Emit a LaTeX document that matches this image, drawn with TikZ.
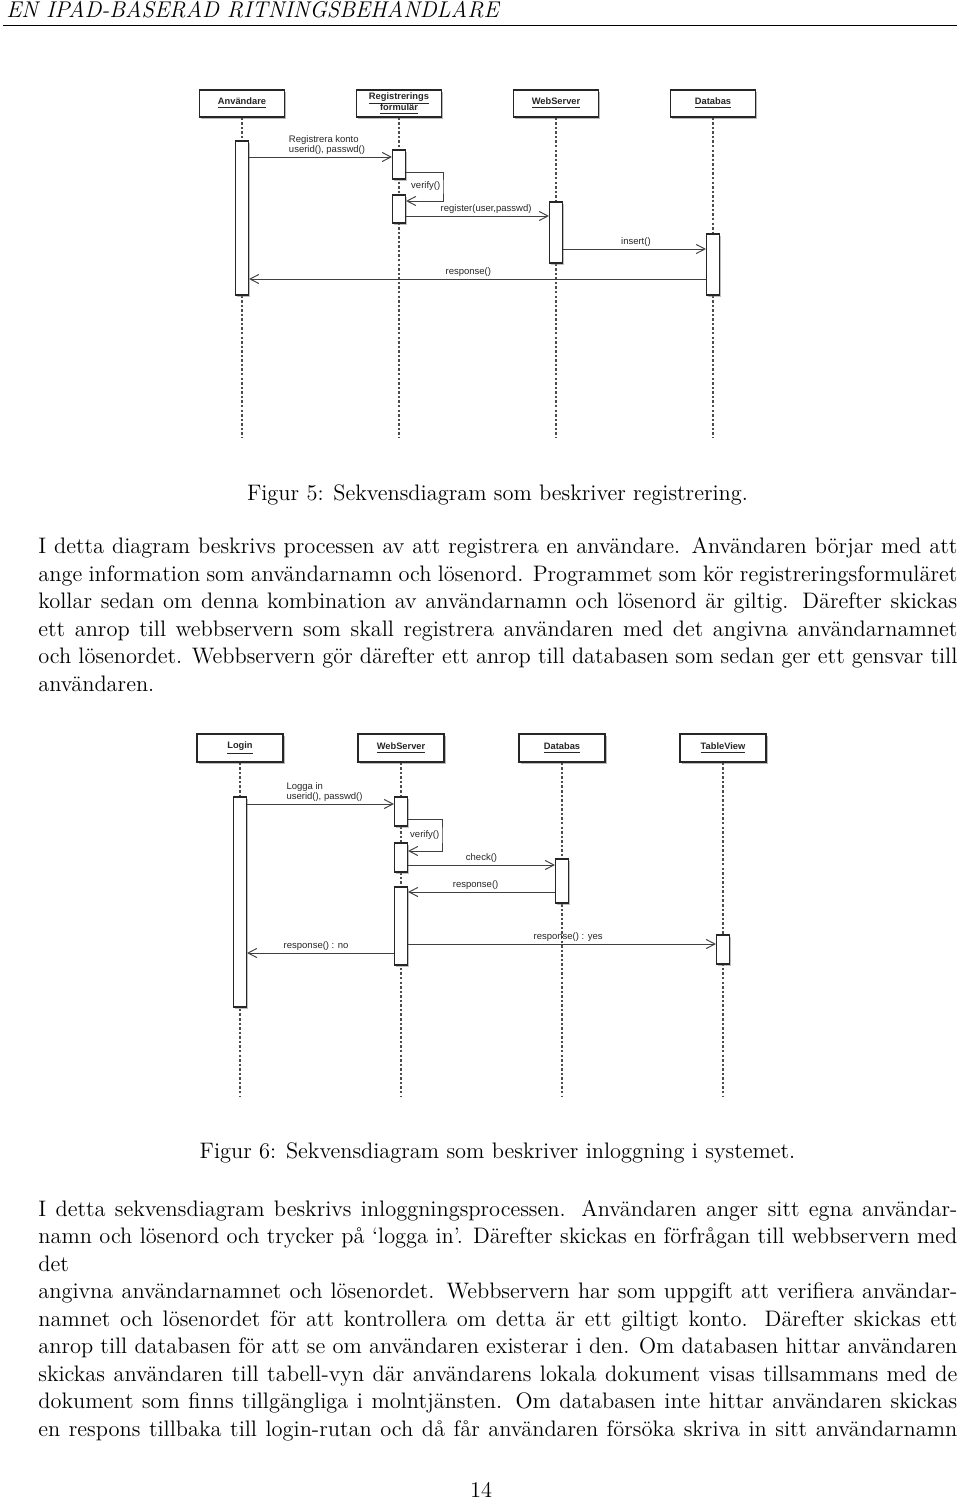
\documentclass[tikz,border=0pt]{standalone}
\usepackage{fontspec}
\newfontfamily\umlfont{Liberation Sans}
\usetikzlibrary{arrows.meta,shadows}

\def\pxu{0.5263pt}

\tikzset{
  head/.style={draw=black!85, fill=white, line width=0.7pt, inner sep=1pt,
    minimum width=85*\pxu, minimum height=27*\pxu, align=center,
    font=\umlfont\fontsize{4.9}{5}\selectfont\bfseries, text=black!85,
    drop shadow={shadow xshift=0.9pt, shadow yshift=-1pt, opacity=0.55}},
  bar/.style={draw=black!85, fill=white, line width=0.6pt, inner sep=0pt,
    minimum width=13*\pxu,
    drop shadow={shadow xshift=0.7pt, shadow yshift=-0.8pt, opacity=0.5}},
  life/.style={draw=black!70, line width=0.55pt, dash pattern=on 1.3pt off 1.1pt},
  msg/.style={draw=black!75, line width=0.5pt, -{Straight Barb[length=4.6pt,width=4.8pt]}},
  lbl/.style={font=\umlfont\fontsize{5}{5.3}\selectfont, text=black!85, inner sep=1.2pt},
  body/.style={font=\fontsize{11.8}{14.5}\selectfont,
    text width=919*\pxu, align=justify, inner sep=0pt},
}

\begin{document}
\begin{tikzpicture}[x=\pxu, y=-\pxu]
  \path[use as bounding box, fill=white] (0,0) rectangle (960,1501);

  % page head
  \node[anchor=base west, inner sep=0pt, font=\fontsize{12}{14.5}\selectfont\itshape]
    (hdr) at (6,18) {EN IPAD-BASERAD RITNINGSBEHANDLARE};
  \coordinate (rl) at (3,25);
  \coordinate (rr) at (957,25);
  \draw[line width=0.45pt] (rl) -- (rr);

  % Figur 5: registrering
  \begin{scope}[every node/.style={head}]
    \node (anv) at (242,103.5) {\underline{Användare}};
    \node (reg) at (399,103.5) {\underline{Registrerings}\\[-1.4pt]\underline{formulär}};
    \node (web) at (556,103.5) {\underline{WebServer}};
    \node (dbs) at (713,103.5) {\underline{Databas}};
  \end{scope}

  \coordinate (end1) at (0,438);
  \foreach \n in {anv,reg,web,dbs}
    \draw[life] (\n) -- (\n |- end1);

  \begin{scope}[every node/.style={bar}]
    \node[minimum height=154*\pxu] (anvb)  at (242,218)   {};
    \node[minimum height=29*\pxu]  (regb1) at (399,164.5) {};
    \node[minimum height=28*\pxu]  (regb2) at (399,209)   {};
    \node[minimum height=61*\pxu]  (webb)  at (556,232.5) {};
    \node[minimum height=61*\pxu]  (dbsb)  at (713,264.5) {};
  \end{scope}

  \coordinate (m1) at (0,157);
  \coordinate (v1) at (0,172);
  \coordinate (lp1) at (443,186.5);
  \coordinate (v2) at (0,201);
  \coordinate (m2) at (0,216);
  \coordinate (m3) at (0,249);
  \coordinate (m4) at (0,279);

  \begin{scope}[every node/.style={lbl}]
    \path (anvb.east |- m1) edge[msg] node[pos=0.26, anchor=south west, align=left]
      {Registrera konto\\userid(), passwd()} (regb1.west |- m1);
    \draw[msg] (regb1.east |- v1) -| (lp1) node[left] {verify()} |- (regb2.east |- v2);
    \path (regb2.east |- m2) edge[msg] node[pos=0.56, above] {register(user,passwd)} (webb.west |- m2);
    \path (webb.east |- m3)  edge[msg] node[pos=0.51, above] {insert()} (dbsb.west |- m3);
    \path (dbsb.west |- m4)  edge[msg] node[pos=0.52, above] {response()} (anvb.east |- m4);
  \end{scope}

  \node[anchor=base, inner sep=0pt, font=\fontsize{11.8}{14.5}\selectfont]
    (cap5) at (497.5,500) {Figur 5: Sekvensdiagram som beskriver registrering.};

  \node[body, anchor=base west] (txt5) at (38,553.5) {\hyphenpenalty=10000\relax
    I detta diagram beskrivs processen av att registrera en användare. Användaren börjar med att\linebreak
    ange information som användarnamn och lösenord. Programmet som kör registreringsformuläret\linebreak
    kollar sedan om denna kombination av användarnamn och lösenord är giltig. Därefter skickas\linebreak
    ett anrop till webbservern som skall registrera användaren med det angivna användarnamnet\linebreak
    och lösenordet. Webbservern gör därefter ett anrop till databasen som sedan ger ett gensvar till\linebreak
    användaren.};

  % Figur 6: inloggning
  \begin{scope}[every node/.style={head, minimum width=86*\pxu, minimum height=28*\pxu}]
    \node (log) at (240,748) {\underline{Login}};
    \node (srv) at (401,748) {\underline{WebServer}};
    \node (dat) at (562,748) {\underline{Databas}};
    \node (tab) at (723,748) {\underline{TableView}};
  \end{scope}

  \coordinate (end2) at (0,1097);
  \foreach \n in {log,srv,dat,tab}
    \draw[life] (\n) -- (\n |- end2);

  \begin{scope}[every node/.style={bar}]
    \node[minimum height=210*\pxu] (logb)  at (240,902)   {};
    \node[minimum height=29*\pxu]  (srvb1) at (401,811.5) {};
    \node[minimum height=29*\pxu]  (srvb2) at (401,857.5) {};
    \node[minimum height=78*\pxu]  (srvb3) at (401,926)   {};
    \node[minimum height=44*\pxu]  (datb)  at (562,881)   {};
    \node[minimum height=29*\pxu]  (tabb)  at (723,949.5) {};
  \end{scope}

  \coordinate (n1) at (0,804);
  \coordinate (w1) at (0,819);
  \coordinate (lp2) at (442,835);
  \coordinate (w2) at (0,851);
  \coordinate (n2) at (0,865);
  \coordinate (n3) at (0,892);
  \coordinate (n4) at (0,944);
  \coordinate (n5) at (0,953);

  \begin{scope}[every node/.style={lbl}]
    \path (logb.east |- n1) edge[msg] node[pos=0.25, anchor=south west, align=left]
      {Logga in\\userid(), passwd()} (srvb1.west |- n1);
    \draw[msg] (srvb1.east |- w1) -| (lp2) node[left] {verify()} |- (srvb2.east |- w2);
    \path (srvb2.east |- n2) edge[msg] node[pos=0.50, above] {check()} (datb.west |- n2);
    \path (datb.west |- n3)  edge[msg] node[pos=0.54, above] {response()} (srvb3.east |- n3);
    \path (srvb3.east |- n4) edge[msg] node[pos=0.52, above] {response() : yes} (tabb.west |- n4);
    \path (srvb3.west |- n5) edge[msg] node[pos=0.53, above] {response() : no} (logb.east |- n5);
  \end{scope}

  \node[anchor=base, inner sep=0pt, font=\fontsize{11.8}{14.5}\selectfont]
    (cap6) at (497.5,1158) {Figur 6: Sekvensdiagram som beskriver inloggning i systemet.};

  \node[body, anchor=base west] (txt6) at (38,1216) {\hyphenpenalty=10000\relax
    I detta sekvensdiagram beskrivs inloggningsprocessen. Användaren anger sitt egna användar-\linebreak
    namn och lösenord och trycker på ‘logga in’. Därefter skickas en förfrågan till webbservern med\linebreak
    det\newline
    angivna användarnamnet och lösenordet. Webbservern har som uppgift att verifiera användar-\linebreak
    namnet och lösenordet för att kontrollera om detta är ett giltigt konto. Därefter skickas ett\linebreak
    anrop till databasen för att se om användaren existerar i den. Om databasen hittar användaren\linebreak
    skickas användaren till tabell-vyn där användarens lokala dokument visas tillsammans med de\linebreak
    dokument som finns tillgängliga i molntjänsten. Om databasen inte hittar användaren skickas\linebreak
    en respons tillbaka till login-rutan och då får användaren försöka skriva in sitt användarnamn\linebreak};

  \node[anchor=base, inner sep=0pt, font=\fontsize{11.8}{14.5}\selectfont]
    (pnum) at (481,1497) {14};
\end{tikzpicture}
\end{document}
